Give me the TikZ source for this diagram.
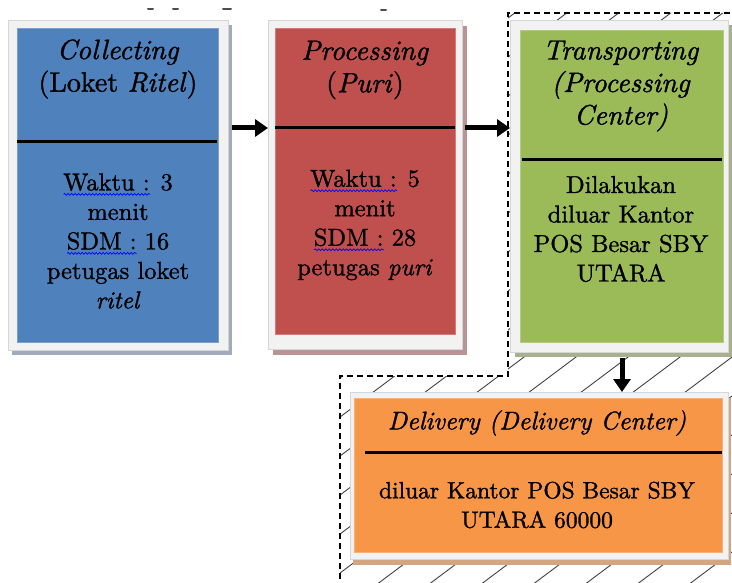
\documentclass[tikz,border=0pt]{standalone}
\usepackage{fontspec}
% Latin Modern, with a slightly heavier "bold" obtained by emboldening the regular faces
\setmainfont{lmroman10-regular.otf}[
  ItalicFont=lmroman10-italic.otf,
  BoldFont=lmroman10-regular.otf,
  BoldItalicFont=lmroman10-italic.otf,
  BoldFeatures={FakeBold=1.2},
  BoldItalicFeatures={FakeBold=1.2}]
\usetikzlibrary{arrows.meta,decorations.pathmorphing}

\definecolor{boxblue}{HTML}{4F81BD}
\definecolor{boxred}{HTML}{C0504D}
\definecolor{boxgreen}{HTML}{9BBB59}
\definecolor{boxorange}{HTML}{F79646}
\definecolor{shblue}{HTML}{A3ABBA}
\definecolor{shred}{HTML}{B99494}
\definecolor{shgreen}{HTML}{A7B08F}
\definecolor{shorange}{HTML}{D2A583}
\definecolor{framegray}{HTML}{F2F2F2}
\definecolor{frameedge}{HTML}{D6D6D6}

\tikzset{
  frame/.style={draw=frameedge, fill=framegray, line width=0.6pt, inner sep=0pt, outer sep=0pt},
  panel/.style={fill=#1, draw=#1!75!white, line width=0.8pt, inner sep=0pt, outer sep=0pt},
  divider/.style={line width=3pt, black},
  titletext/.style={align=center, inner sep=0pt, font=\fontsize{28}{32.5}\selectfont\bfseries},
  bodytext/.style={align=center, inner sep=0pt, font=\fontsize{24.5}{29.5}\selectfont\bfseries},
  bigarrow/.style={line width=5pt, -{Triangle[length=13pt,width=17pt]}},
  hatch/.style={line width=0.9pt, black!75},
  dashedge/.style={line width=1.2pt, dash pattern=on 6pt off 4pt, black},
  cutglyph/.style={line width=2pt, black!70, line cap=round},
  spellline/.style={blue, line width=0.7pt, decorate,
    decoration={snake, amplitude=0.9pt, segment length=3.5pt}}
}

% blue wavy underline, as left by a spell checker
\newlength\wavelen
\newcommand\spellwave[1]{\settowidth\wavelen{#1}\leavevmode
  \rlap{\tikz[baseline=0pt]\draw[spellline] (0pt,-4pt) -- (\wavelen,-4pt);}#1}

\begin{document}
\begin{tikzpicture}[x=1pt, y=-1pt]
\useasboundingbox (0,0) rectangle (732,583);

% hatched area outside the main office, bounded by a dashed line
\begin{scope}
  \clip (508,13) -- (740,13) -- (740,590) -- (340,590) -- (340,376) -- (508,376) -- cycle;
  \foreach \k in {-11,...,10} \draw[hatch] ({252+52*\k},600) -- ++(800,-600);
\end{scope}
\draw[dashedge] (740,13) -- (508,13) -- (508,376) -- (340,376) -- (340,590);

% remnants of a line of text above
\draw[cutglyph] (148,9) -- (153,9);
\draw[cutglyph] (173,9) -- (178,9);
\draw[cutglyph] (223,9) -- (231,9);
\draw[cutglyph] (381,10) -- (386,10);

% Collecting
\fill[shblue] (12,25) rectangle (232,355);
\node[frame, minimum width=220pt, minimum height=330pt] (b1) at (118,185) {};
\node[panel=boxblue, minimum width=201pt, minimum height=314pt] (b1in) at (117.5,185) {};
\draw[divider] (17,142) -- (217,142);
\node[titletext] (t1) at (118,69) {\textit{Collecting}\\(Loket \textit{Ritel})};
\node[bodytext] (d1) at (118,241) {\spellwave{Waktu :} 3\\menit\\\spellwave{SDM :} 16\\petugas loket\\\textit{ritel}};

% Processing
\fill[shred] (273,26) rectangle (467,355);
\node[frame, minimum width=194pt, minimum height=329pt] (b2) at (365,184.5) {};
\node[panel=boxred, minimum width=180pt, minimum height=306pt] (b2in) at (365,181) {};
\draw[divider] (275,128) -- (455,128);
\node[titletext] (t2) at (365,70) {\textit{Processing}\\(\textit{Puri})};
\node[bodytext] (d2) at (365,225) {\spellwave{Waktu :} 5\\menit\\\spellwave{SDM :} 28\\petugas \textit{puri}};

% Transporting
\fill[shgreen] (515,25) rectangle (733,357);
\node[frame, minimum width=218pt, minimum height=332pt] (b3) at (619,186) {};
\node[panel=boxgreen, minimum width=203pt, minimum height=312pt] (b3in) at (621.5,186) {};
\draw[divider] (522,160) -- (722,160);
\node[titletext] (t3) at (621,86) {\textit{Transporting}\\\textit{(Processing}\\\textit{Center)}};
\node[bodytext] (d3) at (621,229) {Dilakukan\\diluar Kantor\\POS Besar SBY\\UTARA};

% Delivery
\fill[shorange] (353,398) rectangle (731,565);
\node[frame, minimum width=378pt, minimum height=167pt] (b4) at (539,475.5) {};
\node[panel=boxorange, minimum width=368pt, minimum height=154pt] (b4in) at (538,475) {};
\draw[divider] (365,452) -- (722,452);
\node[titletext, font=\fontsize{25.5}{31}\selectfont\bfseries] (t4) at (537,423) {\textit{Delivery (Delivery Center)}};
\node[bodytext, font=\fontsize{23.5}{29.5}\selectfont\bfseries] (d4) at (537,505) {diluar Kantor POS Besar SBY\\UTARA 60000};

% flow between the stages
\coordinate (lvl) at (0,128);
\coordinate (dcol) at (622,0);
\draw[bigarrow, shorten <=4pt] (b1.east |- lvl) -- (b2.west |- lvl);
\draw[bigarrow, shorten <=3pt] (b2.east |- lvl) -- (b3.west |- lvl);
\draw[bigarrow, shorten <=6pt] (b3.south -| dcol) -- (b4.north -| dcol);
\end{tikzpicture}
\end{document}
